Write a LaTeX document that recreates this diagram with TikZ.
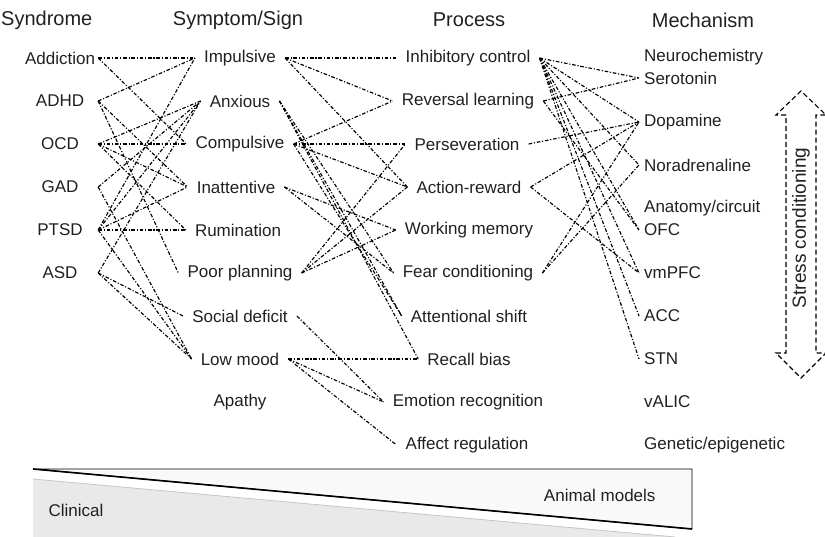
\documentclass[tikz,border=0pt]{standalone}
\usepackage{fontspec}
\setmainfont{Liberation Sans}
\definecolor{txt}{HTML}{231F20}

\begin{document}
\begin{tikzpicture}[x=1pt,y=-1pt,
	every node/.style={text=txt,font=\fontsize{17}{19}\selectfont,inner ysep=2pt},
	colhead/.style={font=\fontsize{20}{22}\selectfont},
	synd/.style={minimum width=76pt,inner xsep=0pt},
	symp/.style={inner xsep=9pt},
	proc/.style={inner xsep=9pt},
	mech/.style={anchor=west,inner xsep=5pt},
	link/.style={line width=1.15pt,dash pattern=on 3.6pt off 1.8pt on 1.1pt off 1.8pt}]
	\useasboundingbox (0,0) rectangle (825,537);
	% clinical / animal wedge
	\fill[gray!17] (33,479) -- (675,537) -- (33,537) -- cycle;
	\draw[gray!45,line width=0.8pt] (33,479) -- (675,537);
	\filldraw[fill=gray!5,draw=black,line width=0.9pt] (33,469) -- (692,469) -- (692,529) -- cycle;
	\draw[line width=1.6pt] (33,469) -- (692,529);
	\node[anchor=west] (clinical) at (45,510) {Clinical};
	\node[anchor=east] (animal) at (659,495) {Animal models};
	% stress arrow
	\draw[line width=1.1pt,dash pattern=on 5pt off 3pt] (786,115) -- (776,115) -- (801,91) -- (826,115) -- (816,115)
		-- (816,353) -- (826,353) -- (801,378) -- (776,353) -- (786,353) -- cycle;
	\node[rotate=90,font=\fontsize{19}{21}\selectfont] (stress) at (801,228) {Stress conditioning};
	% headers
	\node[colhead,anchor=west,inner xsep=0pt] (hsynd) at (1,20) {Syndrome};
	\node[colhead] (hsymp) at (238,20) {Symptom/Sign};
	\node[colhead] (hproc) at (469,20) {Process};
	\node[colhead] (hmech) at (703,20) {Mechanism};
	% syndromes
	\node[synd] (addict) at (60,58) {Addiction};
	\node[synd] (adhd) at (60,101) {ADHD};
	\node[synd] (ocd) at (60,144) {OCD};
	\node[synd] (gad) at (60,187) {GAD};
	\node[synd] (ptsd) at (60,230) {PTSD};
	\node[synd] (asd) at (60,273) {ASD};
	% symptoms
	\node[symp] (impul) at (240,58) {Impulsive};
	\node[symp] (anxi) at (240,101) {Anxious};
	\node[symp] (compul) at (240,144) {Compulsive};
	\node[symp] (inatt) at (236,187) {Inattentive};
	\node[symp] (rumin) at (238,230) {Rumination};
	\node[symp] (poorpl) at (240,273) {Poor planning};
	\node[symp] (social) at (240,316) {Social deficit};
	\node[symp] (lowmood) at (240,359) {Low mood};
	\node[symp] (apathy) at (240,402) {Apathy};
	% processes
	\node[proc] (inhib) at (468,58) {Inhibitory control};
	\node[proc] (revers) at (468,101) {Reversal learning};
	\node[proc] (persev) at (467,144) {Perseveration};
	\node[proc] (actrew) at (469,187) {Action-reward};
	\node[proc] (workmem) at (469,230) {Working memory};
	\node[proc] (fearcond) at (468,273) {Fear conditioning};
	\node[proc] (attshift) at (469,316) {Attentional shift};
	\node[proc] (recall) at (469,359) {Recall bias};
	\node[proc] (emorec) at (468,402) {Emotion recognition};
	\node[proc] (affreg) at (467,445) {Affect regulation};
	% mechanisms
	\node[mech] (neuro) at (639,57) {Neurochemistry};
	\node[mech] (sero) at (639,78) {Serotonin};
	\node[mech] (dopa) at (639,122) {Dopamine};
	\node[mech] (noradr) at (639,165) {Noradrenaline};
	\node[mech] (anat) at (639,208) {Anatomy/circuit};
	\node[mech] (ofc) at (639,230) {OFC};
	\node[mech] (vmpfc) at (639,273) {vmPFC};
	\node[mech] (acc) at (639,316) {ACC};
	\node[mech] (stn) at (639,359) {STN};
	\node[mech] (valic) at (639,402) {vALIC};
	\node[mech] (genet) at (639,445) {Genetic/epigenetic};
	% links
	\foreach \a/\b in {addict/impul,addict/compul,adhd/impul,adhd/inatt,adhd/poorpl,%
		ocd/anxi,ocd/compul,ocd/inatt,ocd/rumin,gad/anxi,gad/lowmood,%
		ptsd/impul,ptsd/anxi,ptsd/inatt,ptsd/rumin,ptsd/lowmood,asd/anxi,asd/social,asd/lowmood}
		\draw[link] (\a.east) -- (\b.west);
	\foreach \a/\b in {impul/inhib,impul/revers,impul/actrew,anxi/fearcond,anxi/attshift,anxi/recall,%
		compul/revers,compul/persev,compul/actrew,compul/attshift,inatt/workmem,inatt/fearcond,%
		poorpl/persev,poorpl/actrew,poorpl/workmem,social/emorec,lowmood/recall,lowmood/emorec,lowmood/affreg}
		\draw[link] (\a.east) -- (\b.west);
	\foreach \a/\b in {inhib/sero,inhib/dopa,inhib/noradr,inhib/ofc,inhib/vmpfc,inhib/acc,inhib/stn,%
		revers/sero,revers/ofc,persev/dopa,actrew/dopa,actrew/vmpfc,fearcond/dopa,fearcond/noradr}
		\draw[link] (\a.east) -- (\b.west);
\end{tikzpicture}
\end{document}
